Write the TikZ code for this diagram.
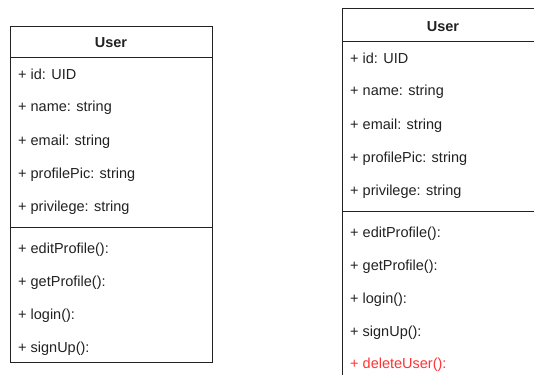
\documentclass[tikz,border=0pt]{standalone}
\usepackage{fontspec}
\setmainfont{Liberation Sans}
\definecolor{inkgray}{HTML}{222222}
\definecolor{addred}{HTML}{FF3333}
\begin{document}
\begin{tikzpicture}[x=1pt,y=-1pt,
  member/.style={anchor=base west, inner sep=0pt, font=\fontsize{14.5}{17}\selectfont, text=inkgray},
  classname/.style={anchor=base, inner sep=0pt, font=\fontsize{14.5}{17}\selectfont\bfseries, text=inkgray},
  frame/.style={draw=inkgray, line width=1pt},
]
\fill[white] (0,0) rectangle (534,374);
\useasboundingbox (0,0) rectangle (534,374);

% ---- class User (before) ----
\node[frame, anchor=north west, minimum width=202pt, minimum height=336pt, inner sep=0pt] (lbox) at (10,26) {};
\draw[frame] (lbox.west |- 0,58) -- (lbox.east |- 0,58);
\draw[frame] (lbox.west |- 0,227) -- (lbox.east |- 0,227);
\node[classname] (ltitle) at (111,48) {User};
\node[member] (l1) at (18,80)  {+ id: UID};
\node[member] (l2) at (18,112) {+ name: string};
\node[member] (l3) at (18,145) {+ email: string};
\node[member] (l4) at (18,178) {+ profilePic: string};
\node[member] (l5) at (18,211) {+ privilege: string};
\node[member] (l6) at (18,253) {+ editProfile():};
\node[member] (l7) at (18,286) {+ getProfile():};
\node[member] (l8) at (18,319) {+ login():};
\node[member] (l9) at (18,352) {+ signUp():};

% ---- class User (after); runs past the right and bottom edges ----
\begin{scope}
\clip (0,0) rectangle (534,374);
\node[anchor=north west, minimum width=240pt, minimum height=369pt, inner sep=0pt] (rbox) at (342,9) {};
\draw[frame] (rbox.south west) -- (rbox.north west) -- (rbox.north east);
\draw[frame] (rbox.west |- 0,42) -- (rbox.east |- 0,42);
\draw[frame] (rbox.west |- 0,211) -- (rbox.east |- 0,211);
\end{scope}
\node[classname] (rtitle) at (443,32) {User};
\node[member] (r1) at (350,64)  {+ id: UID};
\node[member] (r2) at (350,96)  {+ name: string};
\node[member] (r3) at (350,129) {+ email: string};
\node[member] (r4) at (350,162) {+ profilePic: string};
\node[member] (r5) at (350,195) {+ privilege: string};
\node[member] (r6) at (350,237) {+ editProfile():};
\node[member] (r7) at (350,270) {+ getProfile():};
\node[member] (r8) at (350,303) {+ login():};
\node[member] (r9) at (350,336) {+ signUp():};
\node[member, text=addred] (r10) at (350,368) {+ deleteUser():};
\end{tikzpicture}
\end{document}
